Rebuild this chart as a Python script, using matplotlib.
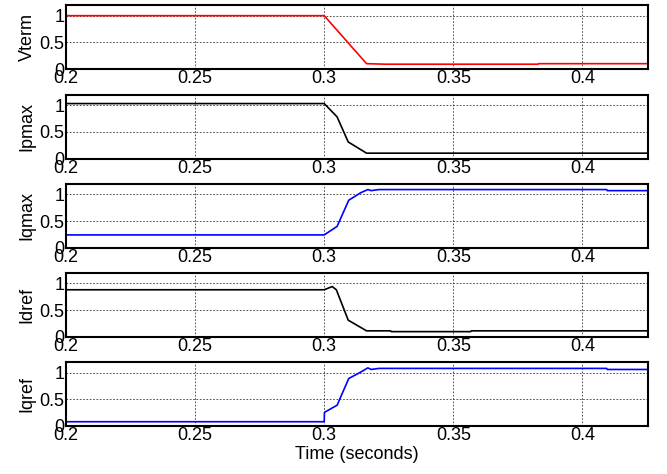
import matplotlib
matplotlib.use("Agg")
import matplotlib.pyplot as plt

plt.rcParams['font.family'] = ['Liberation Sans', 'DejaVu Sans']

# Data (time in seconds, values in per-unit)
vterm_t = [0.2, 0.3, 0.3164, 0.3239, 0.3828, 0.3830, 0.4254]
vterm_v = [1.0, 1.0, 0.10, 0.09, 0.09, 0.10, 0.10]

ipmax_t = [0.2, 0.3, 0.305, 0.3093, 0.3164, 0.4254]
ipmax_v = [1.03, 1.03, 0.78, 0.31, 0.10, 0.10]

iqmax_t = [0.2, 0.3, 0.305, 0.3095, 0.3141, 0.3169, 0.3182, 0.3212, 0.4094, 0.4096, 0.4254]
iqmax_v = [0.24, 0.24, 0.40, 0.89, 1.03, 1.09, 1.07, 1.09, 1.09, 1.07, 1.07]

idref_t = [0.2, 0.3, 0.3031, 0.3047, 0.3093, 0.3164, 0.3257, 0.3260, 0.3567, 0.3570, 0.4254]
idref_v = [0.88, 0.88, 0.94, 0.88, 0.31, 0.11, 0.11, 0.095, 0.095, 0.11, 0.11]

iqref_t = [0.2, 0.3, 0.3001, 0.305, 0.3095, 0.3141, 0.3169, 0.3182, 0.3212, 0.4094, 0.4096, 0.4254]
iqref_v = [0.08, 0.08, 0.256, 0.39, 0.89, 1.01, 1.09, 1.06, 1.08, 1.08, 1.06, 1.06]

labels = ['Vterm', 'Ipmax', 'Iqmax', 'Idref', 'Iqref']
colors = ['#ff0000', '#000000', '#0000ff', '#000000', '#0000ff']
series = [(vterm_t, vterm_v), (ipmax_t, ipmax_v), (iqmax_t, iqmax_v),
          (idref_t, idref_v), (iqref_t, iqref_v)]
xticks = [0.2, 0.25, 0.3, 0.35, 0.4]
xticklabels = ['0.2', '0.25', '0.3', '0.35', '0.4']
yticks = [0, 0.5, 1]
yticklabels = ['0', '0.5', '1']

fig = plt.figure(figsize=(6.67, 4.74), dpi=100)
left = 66 / 667
width = (648 - 66) / 667
bottoms_px = [69, 158.5, 247.7, 336.7, 426]
height = 64 / 474

for i, ((t, v), lab, col) in enumerate(zip(series, labels, colors)):
    b = 1 - bottoms_px[i] / 474
    ax = fig.add_axes([left, b, width, height])
    ax.plot(t, v, color=col, lw=1.2)
    ax.set_xlim(0.2, 0.4254)
    ax.set_ylim(0, 1.2)
    ax.set_xticks(xticks)
    ax.set_xticklabels(xticklabels)
    ax.set_yticks(yticks)
    ax.set_yticklabels(yticklabels)
    ax.grid(True, color='#333333', linestyle=(0, (2, 2)), linewidth=0.6)
    ax.tick_params(direction='in', length=0, labelsize=13, pad=1)
    ax.tick_params(axis='x', pad=1)
    for s in ax.spines.values():
        s.set_linewidth(1.5)
    ax.set_ylabel(lab, fontsize=13, labelpad=3)
    if i == 4:
        ax.set_xlabel('Time (seconds)', fontsize=13, labelpad=1)

fig.savefig('out.png', dpi=100)
